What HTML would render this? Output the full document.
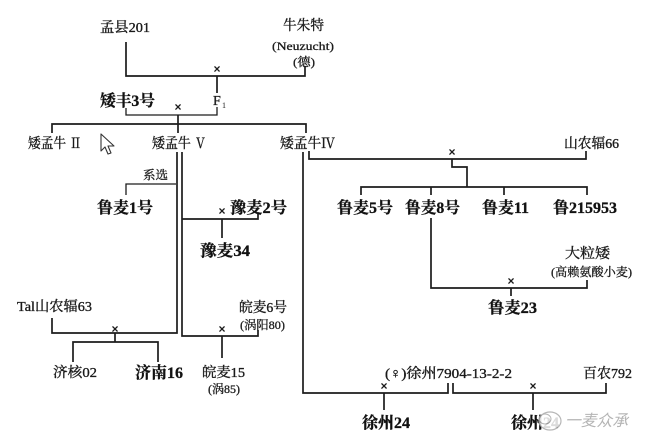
<!DOCTYPE html>
<html><head><meta charset="utf-8"><style>
html,body{margin:0;padding:0;background:#fff;}
svg{display:block;}
text{font-family:"Liberation Serif","Noto Serif CJK SC",serif;fill:#1a1a1a;}
.r{font-size:14px;stroke:#1a1a1a;stroke-width:0.35px;}
.b{font-size:16px;font-weight:700;fill:#111;stroke:#111;stroke-width:0.3px;}
.s{font-size:12px;stroke:#1a1a1a;stroke-width:0.3px;}
.x{font-size:12px;font-family:"Liberation Sans",sans-serif;font-weight:700;}
</style></head><body>
<svg width="650" height="446" viewBox="0 0 650 446" xmlns="http://www.w3.org/2000/svg">
<rect width="650" height="446" fill="#fff"/>
<g fill="none" stroke="#1c1c1c" stroke-width="1.7">
<path d="M126,42 V76 H305 V66"/>
<path d="M217,76 V93"/>
<path d="M126,108 V115 H217 V107" stroke-width="1.3"/>
<path d="M178,115 V133"/>
<path d="M52,133 V124 H306 V133"/>
<path d="M177,152 V333 H52 V318"/>
<path d="M176,184 H126 V195" stroke-width="1.3"/>
<path d="M182,152 V336 H258 V330"/>
<path d="M182,219 H258 V214"/>
<path d="M222,219 V238"/>
<path d="M115,333 V342"/>
<path d="M73,362 V342 H158 V362"/>
<path d="M222,336 V358"/>
<path d="M303,152 V393 H448 V383"/>
<path d="M309,151 V159 H586 V151"/>
<path d="M452,159 V167 H467 V187"/>
<path d="M361,195 V187 H587 V195"/>
<path d="M431,187 V195"/>
<path d="M504,187 V195"/>
<path d="M431,218 V288 H587 V280"/>
<path d="M511,288 V296"/>
<path d="M453,383 V393 H606 V383"/>
<path d="M384,393 V410"/>
<path d="M533,393 V410"/>
</g>
<!-- crosses -->
<text class="x" x="217" y="73" text-anchor="middle">×</text>
<text class="x" x="178" y="111" text-anchor="middle">×</text>
<text class="x" x="452" y="156" text-anchor="middle">×</text>
<text class="x" x="222" y="215" text-anchor="middle">×</text>
<text class="x" x="511" y="285" text-anchor="middle">×</text>
<text class="x" x="115" y="333" text-anchor="middle">×</text>
<text class="x" x="222" y="333" text-anchor="middle">×</text>
<text class="x" x="384" y="390" text-anchor="middle">×</text>
<text class="x" x="533" y="390" text-anchor="middle">×</text>

<!-- labels -->
<text class="r" x="100" y="32" textLength="50" lengthAdjust="spacingAndGlyphs">孟县201</text>
<text class="r" x="283" y="30" textLength="41" lengthAdjust="spacingAndGlyphs">牛朱特</text>
<text class="s" x="272" y="50" textLength="62" lengthAdjust="spacingAndGlyphs">(Neuzucht)</text>
<text class="s" x="293" y="66" textLength="22" lengthAdjust="spacingAndGlyphs">(德)</text>
<text class="r" x="213" y="105">F</text>
<text x="222" y="108" style="font-size:8px">1</text>
<text class="b" x="100" y="106" textLength="55" lengthAdjust="spacingAndGlyphs">矮丰3号</text>
<text class="r" x="28" y="148" textLength="54" lengthAdjust="spacingAndGlyphs">矮孟牛 Ⅱ</text>
<text class="r" x="152" y="148" textLength="55" lengthAdjust="spacingAndGlyphs">矮孟牛 Ⅴ</text>
<text class="r" x="280" y="148" textLength="55" lengthAdjust="spacingAndGlyphs">矮孟牛Ⅳ</text>
<text class="r" x="564" y="148" textLength="55" lengthAdjust="spacingAndGlyphs">山农辐66</text>
<text class="s" x="143" y="179" textLength="25" lengthAdjust="spacingAndGlyphs">系选</text>
<text class="b" x="97" y="213" textLength="56" lengthAdjust="spacingAndGlyphs">鲁麦1号</text>
<text class="b" x="230" y="213" textLength="57" lengthAdjust="spacingAndGlyphs">豫麦2号</text>
<text class="b" x="200" y="256" textLength="50" lengthAdjust="spacingAndGlyphs">豫麦34</text>
<text class="b" x="337" y="213" textLength="56" lengthAdjust="spacingAndGlyphs">鲁麦5号</text>
<text class="b" x="405" y="213" textLength="55" lengthAdjust="spacingAndGlyphs">鲁麦8号</text>
<text class="b" x="482" y="213" textLength="47" lengthAdjust="spacingAndGlyphs">鲁麦11</text>
<text class="b" x="553" y="213" textLength="64" lengthAdjust="spacingAndGlyphs">鲁215953</text>
<text class="r" x="565" y="258" textLength="45" lengthAdjust="spacingAndGlyphs">大粒矮</text>
<text class="s" x="551" y="276" textLength="81" lengthAdjust="spacingAndGlyphs">(高赖氨酸小麦)</text>
<text class="b" x="488" y="313" textLength="49" lengthAdjust="spacingAndGlyphs">鲁麦23</text>
<text class="r" x="17" y="311" textLength="75" lengthAdjust="spacingAndGlyphs">Tal山农辐63</text>
<text class="r" x="239" y="312" textLength="48" lengthAdjust="spacingAndGlyphs">皖麦6号</text>
<text class="s" x="240" y="329" textLength="45" lengthAdjust="spacingAndGlyphs">(涡阳80)</text>
<text class="r" x="53" y="377" textLength="44" lengthAdjust="spacingAndGlyphs">济核02</text>
<text class="b" x="135" y="378" textLength="48" lengthAdjust="spacingAndGlyphs">济南16</text>
<text class="r" x="202" y="377" textLength="43" lengthAdjust="spacingAndGlyphs">皖麦15</text>
<text class="s" x="208" y="393" textLength="32" lengthAdjust="spacingAndGlyphs">(涡85)</text>
<text class="r" x="385" y="378" textLength="127" lengthAdjust="spacingAndGlyphs">(♀)徐州7904-13-2-2</text>
<text class="r" x="583" y="378" textLength="49" lengthAdjust="spacingAndGlyphs">百农792</text>
<text class="b" x="362" y="428" textLength="48" lengthAdjust="spacingAndGlyphs">徐州24</text>
<text class="b" x="511" y="428" textLength="48" lengthAdjust="spacingAndGlyphs">徐州24</text>

<!-- watermark -->
<g opacity="0.85">
<ellipse cx="550" cy="421" rx="11" ry="9" fill="#fff" stroke="#aaa" stroke-width="1.2"/>
<ellipse cx="545" cy="419" rx="6" ry="5" fill="none" stroke="#aaa" stroke-width="1"/>
<text x="565" y="426" style="font-size:16px;fill:#a8a8a8;font-family:'Noto Sans CJK SC',sans-serif;font-style:italic" textLength="63" lengthAdjust="spacingAndGlyphs">一麦众承</text>
</g>

<!-- cursor -->
<path d="M101,134 L101,151 L105,147 L108,154 L111,153 L108,146 L114,146 Z" fill="#fff" stroke="#333" stroke-width="1.1" stroke-linejoin="round"/>
</svg>
</body></html>
